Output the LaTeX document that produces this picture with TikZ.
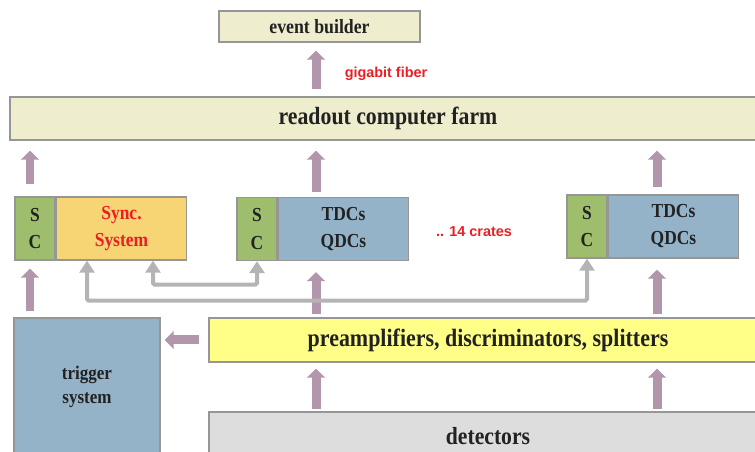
\documentclass[tikz,border=0pt]{standalone}
\usepackage{fontspec}
\setmainfont[FakeStretch=0.88]{Liberation Serif}
\newfontfamily\labelfont{Liberation Sans}
\usetikzlibrary{arrows.meta,positioning}
\definecolor{beige}{RGB}{238,237,205}
\definecolor{scgreen}{RGB}{158,190,110}
\definecolor{syncorange}{RGB}{247,213,117}
\definecolor{crateblue}{RGB}{148,179,201}
\definecolor{preyellow}{RGB}{255,255,136}
\definecolor{detgray}{RGB}{221,221,221}
\definecolor{edgegray}{RGB}{150,150,150}
\definecolor{mauve}{RGB}{178,150,172}
\definecolor{linkgray}{RGB}{180,180,180}
\definecolor{labelred}{RGB}{235,30,35}
\definecolor{ink}{RGB}{34,34,34}
\tikzset{
  box/.style={draw=edgegray, line width=0.85pt, text=ink, font=\bfseries, inner sep=0pt},
  crate/.style={box, minimum width=2.6cm, minimum height=1.26cm, align=center, font=\bfseries\fontsize{11.3}{15.4}\selectfont},
  scbox/.style={crate, fill=scgreen, minimum width=0.8cm},
  fatarrow/.style={draw=mauve, line width=0.18cm, -{Triangle[width=0.36cm, length=0.18cm]}},
  linkarrow/.style={draw=linkgray, line width=0.08cm, rounded corners=1pt, {Triangle[width=0.3cm, length=0.24cm]}-{Triangle[width=0.3cm, length=0.24cm]}},
  redlabel/.style={text=labelred, font=\labelfont\bfseries\fontsize{8.2}{10}\selectfont}
}
\begin{document}
\begin{tikzpicture}[x=0.02cm, y=-0.02cm]
          \useasboundingbox (0,0) rectangle (755,452);
          \clip (0,0) rectangle (755,452);
          % top boxes
          \node[box, fill=beige, minimum width=4.02cm, minimum height=0.62cm, font=\bfseries\fontsize{11.5}{13}\selectfont] (builder) at (319.5,26.5) {event builder};
          \node[box, fill=beige, minimum width=15.12cm, minimum height=0.86cm, font=\bfseries\fontsize{14.1}{16}\selectfont] (farm) at (388,118.5) {readout computer farm};
          % three crates
          \node[scbox] (sc1) at (35,228.5) {S\\C};
          \node[crate, fill=syncorange, text=labelred, anchor=west] (sync) at (sc1.east) {Sync.\\System};
          \node[scbox] (sc2) at (257,229) {S\\C};
          \node[crate, fill=crateblue, anchor=west] (tdc2) at (sc2.east) {TDCs\\QDCs};
          \node[scbox] (sc3) at (587,226.5) {S\\C};
          \node[crate, fill=crateblue, anchor=west] (tdc3) at (sc3.east) {TDCs\\QDCs};
          % bottom boxes
          \node[box, fill=crateblue, minimum width=2.92cm, minimum height=2.76cm, align=center, font=\bfseries\fontsize{11}{13.7}\selectfont] (trigger) at (87,387) {trigger\\system};
          \node[box, fill=preyellow, minimum width=11.16cm, minimum height=0.88cm, font=\bfseries\fontsize{14.2}{16}\selectfont] (preamp) at (488,340) {preamplifiers, discriminators, splitters};
          \node[box, fill=detgray, minimum width=11.16cm, minimum height=0.96cm, font=\bfseries\fontsize{14}{16}\selectfont] (detectors) at (488,436) {detectors};
          % text
          \node[redlabel] (fiber) at (386,74) {gigabit fiber};
          \node[redlabel] (crates) at (474,232) {.. 14 crates};
          % columns of the arrows
          \coordinate (c1) at (30,0);
          \coordinate (c2) at (316,0);
          \coordinate (c3) at (657,0);
          % fat arrows
          \draw[fatarrow, shorten <=0.14cm, shorten >=0.16cm] (farm.north -| c2) -- (builder.south -| c2);
          \draw[fatarrow, shorten <=0.24cm, shorten >=0.2cm] (sc1.north -| c1) -- (farm.south -| c1);
          \draw[fatarrow, shorten <=0.1cm, shorten >=0.2cm] (tdc2.north -| c2) -- (farm.south -| c2);
          \draw[fatarrow, shorten <=0.14cm, shorten >=0.2cm] (tdc3.north -| c3) -- (farm.south -| c3);
          \draw[fatarrow, shorten <=0.12cm, shorten >=0.16cm] (trigger.north -| c1) -- (sc1.south -| c1);
          \draw[fatarrow, shorten <=0.06cm, shorten >=0.22cm] (preamp.north -| c2) -- (tdc2.south -| c2);
          \draw[fatarrow, shorten <=0.06cm, shorten >=0.22cm] (preamp.north -| c3) -- (tdc3.south -| c3);
          \draw[fatarrow, shorten <=0.18cm, shorten >=0.08cm] (preamp.west |- 0,340) -- (trigger.east |- 0,340);
          \draw[fatarrow, shorten <=0.04cm, shorten >=0.12cm] (detectors.north -| c2) -- (preamp.south -| c2);
          \draw[fatarrow, shorten <=0.04cm, shorten >=0.12cm] (detectors.north -| c3) -- (preamp.south -| c3);
          % grey links
          \coordinate (g1) at (153,0);
          \coordinate (g2) at (87,0);
          \draw[linkarrow] (sync.south -| g1) -- ++(0,24) -| (sc2.south);
          \draw[linkarrow] (sync.south -| g2) -- ++(0,40) -| (sc3.south);
        \end{tikzpicture}
\end{document}
